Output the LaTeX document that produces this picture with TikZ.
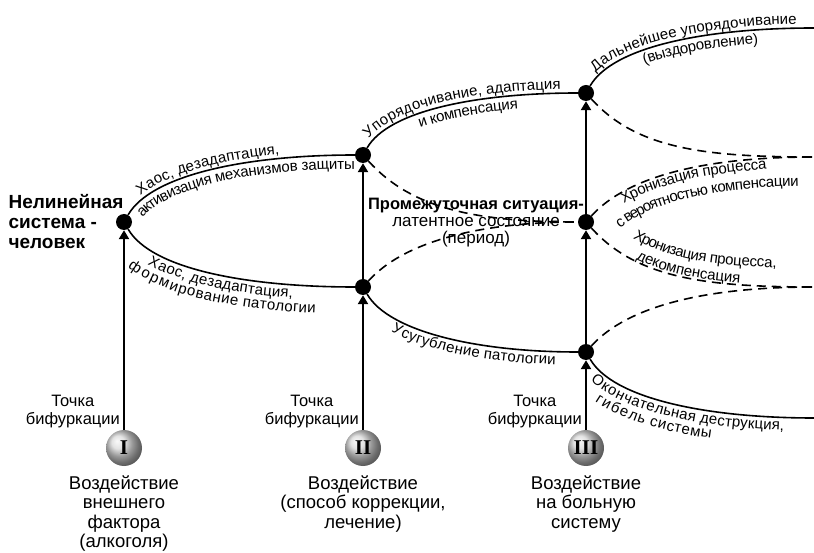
\documentclass[tikz,border=0pt]{standalone}
\usepackage{fontspec}
\setmainfont{Liberation Sans}
\newfontfamily\numfont{Liberation Serif}
\usetikzlibrary{positioning,arrows.meta,decorations.text}
\newcommand{\lblfont}{\fontsize{15}{15}\selectfont}

\begin{document}
\begin{tikzpicture}[x=1pt,y=1pt,
    dot/.style={circle,fill=black,inner sep=0pt,minimum size=16pt},
    ball/.style={circle,shading=ball,ball color=gray!30,inner sep=0pt,minimum size=36pt,font=\numfont\bfseries\fontsize{21}{21}\selectfont},
    up/.style={line width=2.4pt,-{Triangle[length=9pt,width=10pt]}},
    branch/.style={line width=1.6pt},
    maybe/.style={line width=1.6pt,dash pattern=on 9pt off 6pt},
    rise/.style={out=60,in=180,out looseness=0.5,in looseness=1.2},
    fall/.style={out=-60,in=180,out looseness=0.5,in looseness=1.2},
    riseD/.style={out=48,in=180,out looseness=0.6,in looseness=1.2},
    fallD/.style={out=-48,in=180,out looseness=0.75,in looseness=1.2},
    say/.style n args={3}{decorate,decoration={text along path,raise=#1,text align={left indent=#2},text={|\lblfont|#3}}},
    bif/.style={font=\fontsize{16.5}{18}\selectfont,align=center,inner sep=1pt},
    effect/.style={font=\fontsize{18.5}{19.5}\selectfont,align=center,inner sep=1pt}]
\useasboundingbox (0,0) rectangle (814,552);

    % Points
    \node[dot] (p1) at (124,330) {};
    \node[dot] (a) at (363,397) {};
    \node[dot] (b) at (363,265) {};
    \node[dot] (c) at (586,459) {};
    \node[dot] (d) at (586,330) {};
    \node[dot] (e) at (586,200) {};
    \coordinate (r1) at (814,524);
    \coordinate (r2) at (814,395);
    \coordinate (r3) at (814,265);
    \coordinate (r4) at (814,134);

    % Impacts
    \node[ball] (ci) at (124,104) {I};
    \node[ball] (cii) at (363,104) {II};
    \node[ball] (ciii) at (586,104) {III};
    \draw[up] (ci) -- (p1);
    \draw[up] (cii) -- (b);
    \draw[up] (b) -- (a);
    \draw[up] (ciii) -- (e);
    \draw[up] (e) -- (d);
    \draw[up] (d) -- (c);

    % Branches
    \draw[branch] (p1) to[rise] (a);
    \draw[branch] (p1) to[fall] (b);
    \draw[branch] (a) to[rise] (c);
    \draw[maybe] (a) to[fallD] (d);
    \draw[maybe] (b) to[riseD] (d);
    \draw[branch] (b) to[fall] (e);
    \draw[branch] (c) to[rise] (r1);
    \draw[maybe] (c) to[fallD] (r2);
    \draw[maybe] (d) to[riseD] (r2);
    \draw[maybe] (d) to[fallD] (r3);
    \draw[maybe] (e) to[riseD] (r3);
    \draw[branch] (e) to[fall] (r4);

    % Labels on branches
    \path[say={4pt}{22pt}{Хаос, дезадаптация,}] (p1) to[rise] (a);
    \path[say={-14pt}{8pt}{активизация механизмов защиты}] (p1) to[rise] (a);
    \path[say={-13pt}{35pt}{Хаос, дезадаптация,}] (p1) to[fall] (b);
    \path[say={-27pt}{22pt}{формирование патологии}] (p1) to[fall] (b);
    \path[say={4pt}{8pt}{Упорядочивание, адаптация}] (a) to[rise] (c);
    \path[say={-14pt}{60pt}{и компенсация}] (a) to[rise] (c);
    \path[say={4pt}{13pt}{Дальнейшее упорядочивание}] (c) to[rise] (r1);
    \path[say={-14pt}{62pt}{(выздоровление)}] (c) to[rise] (r1);
    \path[say={-11pt}{35pt}{Хронизация процесса}] (d) to[riseD] (r2);
    \path[say={-29pt}{15pt}{с вероятностью компенсации}] (d) to[riseD] (r2);
    \path[say={19pt}{42pt}{Хронизация процесса,}] (d) to[fallD] (r3);
    \path[say={2pt}{55pt}{декомпенсация}] (d) to[fallD] (r3);
    \path[say={-13pt}{40pt}{Усугубление патологии}] (b) to[fall] (e);
    \path[say={-13pt}{14pt}{Окончательная деструкция,}] (e) to[fall] (r4);
    \path[say={-27pt}{28pt}{гибель системы}] (e) to[fall] (r4);

    % Texts
    \node[anchor=west,align=left,font=\bfseries\fontsize{19}{20}\selectfont] (sys) at (5,330) {Нелинейная\\система -\\человек};
    \node[align=center,font=\fontsize{17}{17}\selectfont] (mid) at (476,329) {{\bfseries\fontsize{16.5}{17}\selectfont Промежуточная ситуация-}\\латентное состояние\\(период)};
    \node[bif,anchor=east] (t1) at (121,140) {Точка\\бифуркации};
    \node[bif,anchor=east] (t2) at (360,140) {Точка\\бифуркации};
    \node[bif,anchor=east] (t3) at (583,140) {Точка\\бифуркации};
    \node[effect,below=8pt of ci] (v1) {Воздействие\\внешнего\\фактора\\(алкоголя)};
    \node[effect,below=8pt of cii] (v2) {Воздействие\\(способ коррекции,\\лечение)};
    \node[effect,below=8pt of ciii] (v3) {Воздействие\\на больную\\систему};
\end{tikzpicture}
\end{document}
